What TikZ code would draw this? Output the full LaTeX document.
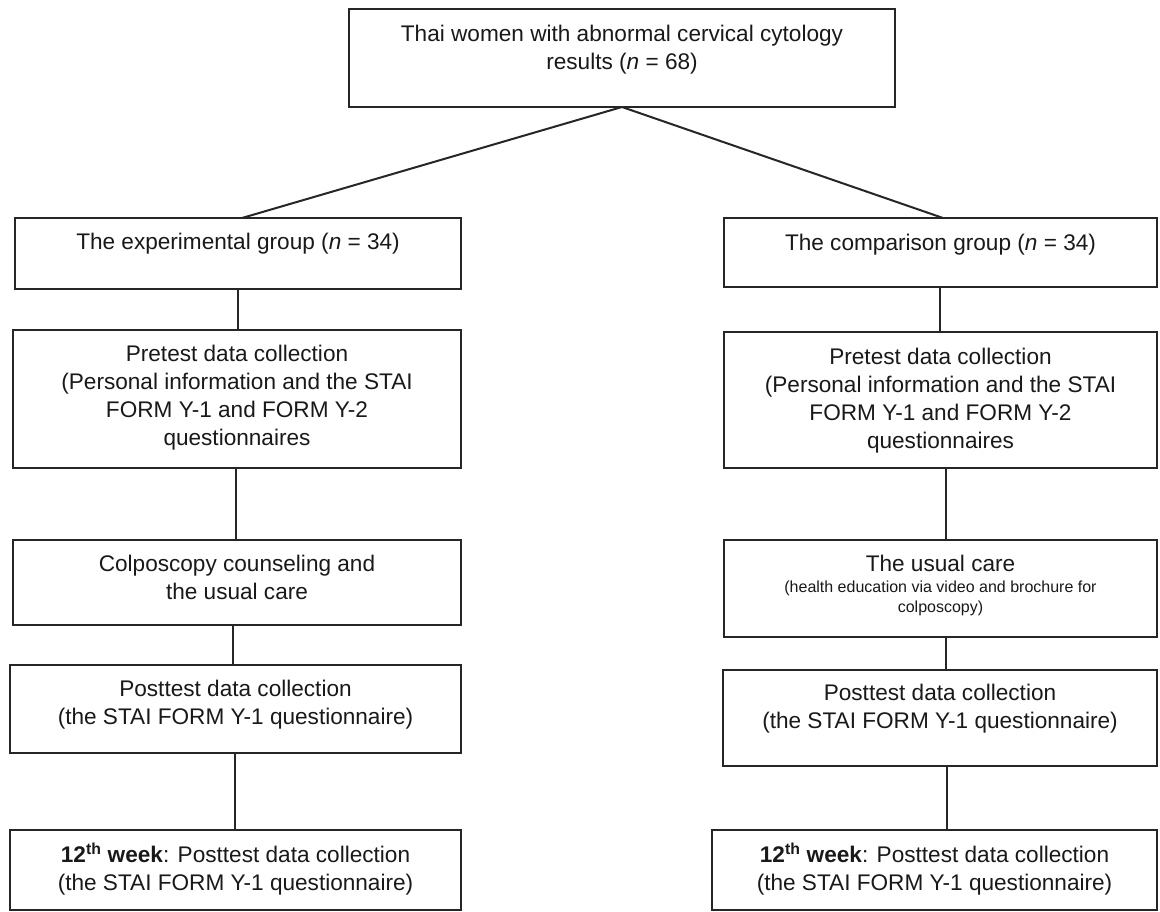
\documentclass[tikz,border=0pt]{standalone}
\usepackage{fontspec}
\setmainfont{Liberation Sans}
\definecolor{lc}{RGB}{38,38,38}
\definecolor{tc}{RGB}{25,25,25}
\begin{document}
\begin{tikzpicture}[x=1pt,y=-1pt,
  box/.style={draw=lc, line width=1.9pt, inner sep=0pt, outer sep=0pt},
  txt/.style={anchor=north, align=center, inner sep=0pt, text=tc, font=\fontsize{22.6}{28}\selectfont},
  stxt/.style={anchor=north, align=center, inner sep=0pt, text=tc, font=\fontsize{16}{20}\selectfont},
  conn/.style={draw=lc, line width=2pt}]
\fill[white] (0,0) rectangle (1160,912);
\useasboundingbox (0,0) rectangle (1160,912);

% top
\node[box, minimum width=546pt, minimum height=98pt] (T) at (622,58) {};
\node[txt] (Tt) at ([yshift=-16pt]T.north) {Thai women with abnormal cervical cytology\\results (\textit{n} = 68)};

% left column
\node[box, minimum width=446pt, minimum height=71pt] (L1) at (238,253.5) {};
\node[box, minimum width=448pt, minimum height=138pt] (L2) at (237,399) {};
\node[box, minimum width=448pt, minimum height=85pt] (L3) at (237,582.5) {};
\node[box, minimum width=451pt, minimum height=88pt] (L4) at (235.5,709) {};
\node[box, minimum width=451pt, minimum height=80pt] (L5) at (235.5,870) {};

\node[txt] (L1t) at ([yshift=-15pt]L1.north) {The experimental group (\textit{n} = 34)};
\node[txt] (L2t) at ([yshift=-15pt]L2.north) {Pretest data collection\\(Personal information and the STAI\\FORM Y-1 and FORM Y-2\\questionnaires};
\node[txt] (L3t) at ([yshift=-15pt]L3.north) {Colposcopy counseling and\\the usual care};
\node[txt] (L4t) at ([yshift=-15pt]L4.north) {Posttest data collection\\(the STAI FORM Y-1 questionnaire)};
\node[txt] (L5t) at ([yshift=-13pt]L5.north) {\textbf{12\textsuperscript{th} week}: Posttest data collection\\(the STAI FORM Y-1 questionnaire)};

% right column
\node[box, minimum width=433pt, minimum height=69pt] (R1) at (940.5,252.5) {};
\node[box, minimum width=433pt, minimum height=136pt] (R2) at (940.5,400) {};
\node[box, minimum width=433pt, minimum height=97pt] (R3) at (940.5,588.5) {};
\node[box, minimum width=434pt, minimum height=96pt] (R4) at (940,718) {};
\node[box, minimum width=445pt, minimum height=80pt] (R5) at (934.5,870) {};

\node[txt] (R1t) at ([yshift=-16pt]R1.north) {The comparison group (\textit{n} = 34)};
\node[txt] (R2t) at ([yshift=-16pt]R2.north) {Pretest data collection\\(Personal information and the STAI\\FORM Y-1 and FORM Y-2\\questionnaires};
\node[txt] (R3t) at ([yshift=-15pt]R3.north) {The usual care};
\node[stxt] (R3s) at ([yshift=-41pt]R3.north) {(health education via video and brochure for\\colposcopy)};
\node[txt] (R4t) at ([yshift=-14pt]R4.north) {Posttest data collection\\(the STAI FORM Y-1 questionnaire)};
\node[txt] (R5t) at ([yshift=-13pt]R5.north) {\textbf{12\textsuperscript{th} week}: Posttest data collection\\(the STAI FORM Y-1 questionnaire)};

% connectors
\draw[conn] (T.south) -- ([xshift=4pt]L1.north);
\draw[conn] (T.south) -- ([xshift=2.5pt]R1.north);
\draw[conn] (L1.south) -- (L1.south |- L2.north);
\draw[conn] ([xshift=-1pt]L2.south) -- ([xshift=-1pt]L2.south |- L3.north);
\draw[conn] ([xshift=-4pt]L3.south) -- ([xshift=-4pt]L3.south |- L4.north);
\draw[conn] ([xshift=-0.5pt]L4.south) -- ([xshift=-0.5pt]L4.south |- L5.north);
\draw[conn] ([xshift=-0.5pt]R1.south) -- ([xshift=-0.5pt]R1.south |- R2.north);
\draw[conn] ([xshift=5.5pt]R2.south) -- ([xshift=5.5pt]R2.south |- R3.north);
\draw[conn] ([xshift=5.5pt]R3.south) -- ([xshift=5.5pt]R3.south |- R4.north);
\draw[conn] ([xshift=7pt]R4.south) -- ([xshift=7pt]R4.south |- R5.north);
\end{tikzpicture}
\end{document}
